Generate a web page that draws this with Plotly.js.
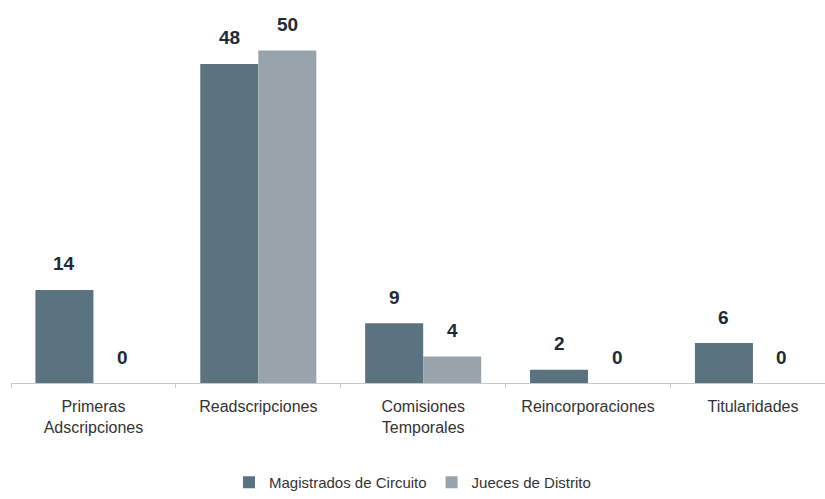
<!DOCTYPE html>
<html>
<head>
<meta charset="utf-8">
<script src="https://cdn.plot.ly/plotly-3.0.1.min.js"></script>
<style>html,body{margin:0;padding:0;background:#fff;}#chart{width:825px;height:499px;}</style>
</head>
<body>
<div id="chart"></div>
<script>
const categories = ["Primeras<br>Adscripciones", "Readscripciones", "Comisiones<br>Temporales", "Reincorporaciones", "Titularidades"];
const seriesNames = ["Magistrados de Circuito", "Jueces de Distrito"];
const magistrados = [14, 48, 9, 2, 6];
const jueces = [0, 50, 4, 0, 0];
const colors = ["#5b7280", "#98a3ab"];

const bargap = 0.296;
const half = (1 - bargap) / 4;

const traces = [magistrados, jueces].map((vals, i) => ({
  type: "bar",
  name: seriesNames[i],
  x: categories,
  y: vals,
  marker: {color: colors[i]},
  hoverinfo: "none"
}));

const annotations = [];
[magistrados, jueces].forEach((vals, i) => {
  vals.forEach((v, j) => {
    annotations.push({
      x: j + (i === 0 ? -half : half),
      y: v,
      xref: "x", yref: "y",
      text: "<b>" + String(v) + "</b>",
      showarrow: false,
      yanchor: "middle",
      yshift: 26,
      font: {family: "Liberation Sans, Arial, sans-serif", size: 19, color: "#1e2b37"}
    });
  });
});

const layout = {
  width: 825, height: 499,
  margin: {l: 11, r: 0, t: 20, b: 116},
  paper_bgcolor: "#ffffff",
  plot_bgcolor: "#ffffff",
  barmode: "group",
  bargap: bargap,
  bargroupgap: 0,
  font: {family: "Liberation Sans, Arial, sans-serif", size: 16, color: "#333333"},
  xaxis: {
    type: "category",
    range: [-0.5, 4.437],
    showline: true, linecolor: "#c8c8c8", linewidth: 1,
    ticks: "outside", tickson: "boundaries", ticklen: 4, tickcolor: "#c8c8c8",
    showgrid: false, zeroline: false,
    tickfont: {size: 16, color: "#333333"},
    ticklabelstandoff: 9
  },
  yaxis: {
    range: [0, 54.6],
    visible: false, showgrid: false, zeroline: false
  },
  showlegend: true,
  legend: {
    orientation: "h",
    xref: "container", yref: "container",
    x: 0.5, xanchor: "center",
    y: 0.0, yanchor: "bottom",
    font: {size: 15, color: "#333333"},
    itemwidth: 30,
    tracegroupgap: 0,
    traceorder: "normal"
  },
  annotations: annotations
};

Plotly.newPlot("chart", traces, layout, {displayModeBar: false, staticPlot: true});
</script>
</body>
</html>
